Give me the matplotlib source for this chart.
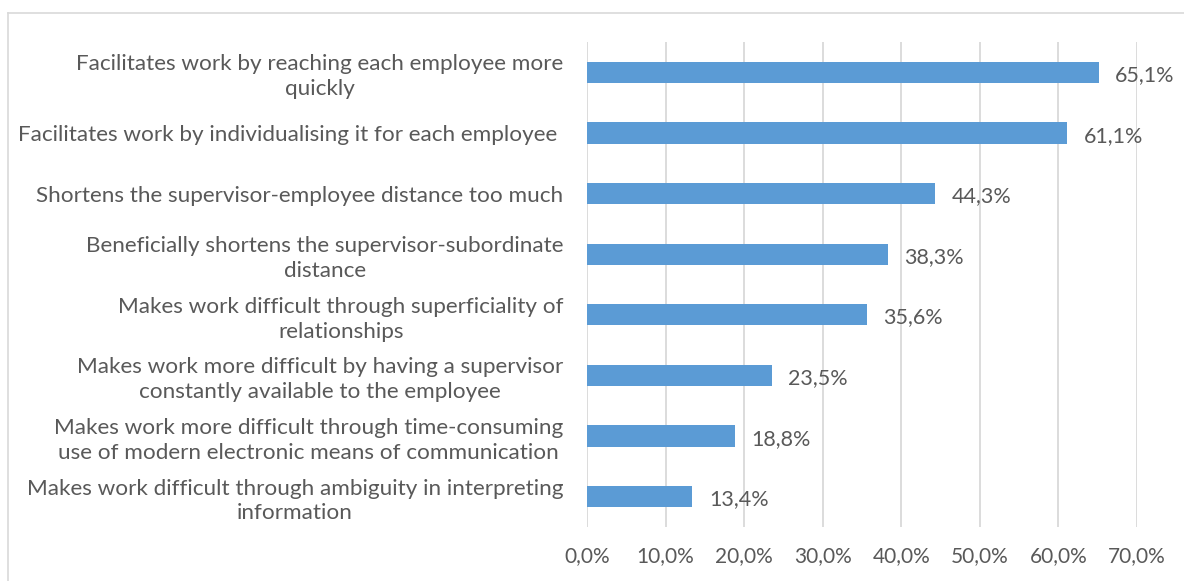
import matplotlib.pyplot as plt
from matplotlib.lines import Line2D

# survey answers, listed bottom to top
kategoriler = [
    "Makes work difficult through ambiguity in interpreting\ninformation",
    "Makes work more difficult through time-consuming\nuse of modern electronic means of communication",
    "Makes work more difficult by having a supervisor\nconstantly available to the employee",
    "Makes work difficult through superficiality of\nrelationships",
    "Beneficially shortens the supervisor-subordinate\ndistance",
    "Shortens the supervisor-employee distance too much",
    "Facilitates work by individualising it for each employee ",
    "Facilitates work by reaching each employee more\nquickly",
]
degerler = [13.4, 18.8, 23.5, 35.6, 38.3, 44.3, 61.1, 65.1]
x_ticks = [0, 10, 20, 30, 40, 50, 60, 70]

plt.rcParams['font.family'] = ['Lato', 'DejaVu Sans']
yazi_renk = "#595959"

fig = plt.figure(figsize=(11.84, 5.81), dpi=100)
ax = fig.add_axes([587 / 1184, 1 - 527 / 581, 550 / 1184, 485 / 581])

y = list(range(len(kategoriler)))
ax.barh(y, degerler, height=0.35, color="#5B9BD5", zorder=3)
for yi, v in zip(y, degerler):
    ax.annotate(f"{v:.1f}%".replace(".", ","), (v, yi), xytext=(12, -2),
                textcoords="offset points", va="center", ha="left",
                fontsize=15.5, color=yazi_renk)

ax.set_xlim(0, 70)
ax.set_ylim(-0.5, len(kategoriler) - 0.5)
ax.set_xticks(x_ticks)
ax.set_xticklabels([f"{t:.1f}%".replace(".", ",") for t in x_ticks],
                   fontsize=15, color=yazi_renk)
ax.set_yticks(y)
ax.set_yticklabels(kategoriler, fontsize=16.2, color=yazi_renk,
                   multialignment="center", linespacing=1.3)
ax.tick_params(axis="both", length=0)
ax.tick_params(axis="y", pad=17)
ax.tick_params(axis="x", pad=14)
ax.grid(axis="x", color="#D9D9D9", linewidth=1.3, zorder=0)
for s in ax.spines.values():
    s.set_visible(False)

# chart frame
fig.add_artist(Line2D([8 / 1184, 8 / 1184], [0, 1 - 13 / 581],
                      transform=fig.transFigure, color="#D9D9D9", linewidth=1.2))
fig.add_artist(Line2D([8 / 1184, 1], [1 - 13 / 581, 1 - 13 / 581],
                      transform=fig.transFigure, color="#D9D9D9", linewidth=1.2))

plt.savefig("out.png", dpi=100)
